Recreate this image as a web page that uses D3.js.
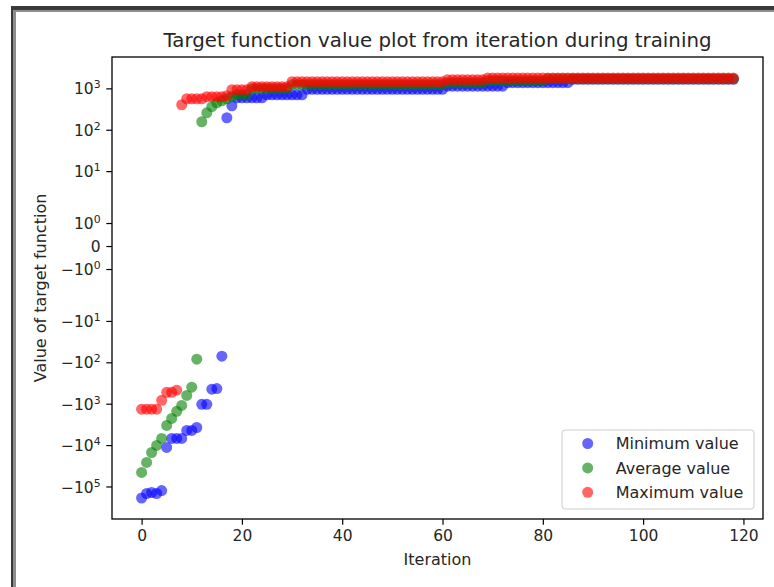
<!DOCTYPE html>
<html>
<head>
<meta charset="utf-8">
<script src="https://cdn.jsdelivr.net/npm/d3@7"></script>
<style>
  body { margin: 0; background: #fff; }
  svg { display: block; font-family: "DejaVu Sans", sans-serif; }
</style>
</head>
<body>
<svg id="chart" width="774" height="587"></svg>
<script>
// Iteration numbers (x axis)
const iterations = [
  0,1,2,3,4,5,6,7,8,9,10,11,12,13,14,15,16,17,18,19,
  20,21,22,23,24,25,26,27,28,29,30,31,32,33,34,35,36,37,38,39,
  40,41,42,43,44,45,46,47,48,49,50,51,52,53,54,55,56,57,58,59,
  60,61,62,63,64,65,66,67,68,69,70,71,72,73,74,75,76,77,78,79,
  80,81,82,83,84,85,86,87,88,89,90,91,92,93,94,95,96,97,98,99,
  100,101,102,103,104,105,106,107,108,109,110,111,112,113,114,115,116,117,118
];

// Minimum target function value per iteration (10 per row)
const minValues = [
  -190000,-148000,-140000,-148000,-126000,-11400,-6900,-6900,-6900,-4420,
  -4420,-3760,-1035,-1035,-447,-430,-71,195,380,590,
  590,590,590,590,590,700,700,700,700,700,
  700,700,700,950,950,950,950,950,950,950,
  950,950,950,950,950,950,950,950,950,950,
  950,950,950,950,950,950,950,950,950,950,
  950,1130,1130,1130,1130,1130,1130,1130,1130,1130,
  1130,1130,1130,1370,1370,1370,1370,1370,1370,1370,
  1370,1370,1370,1370,1370,1370,1650,1650,1650,1650,
  1650,1650,1650,1650,1650,1650,1650,1650,1650,1650,
  1650,1650,1650,1650,1650,1650,1650,1650,1650,1650,
  1650,1650,1650,1650,1650,1650,1650,1650,1650
];

// Average target function value per iteration (10 per row)
const avgValues = [
  -45700,-26300,-15100,-10200,-6900,-3350,-2270,-1530,-1100,-630,
  -400,-84,156,257,360,449,502,561,628,702,
  702,702,980,980,980,980,980,980,980,980,
  1225,1225,1225,1225,1225,1225,1225,1225,1225,1225,
  1225,1225,1225,1225,1225,1225,1225,1225,1225,1225,
  1225,1225,1225,1225,1225,1225,1225,1225,1225,1225,
  1225,1370,1370,1370,1370,1370,1370,1370,1370,1530,
  1530,1530,1530,1530,1530,1530,1530,1530,1530,1530,
  1530,1700,1700,1700,1700,1700,1700,1700,1700,1700,
  1700,1700,1700,1700,1700,1700,1700,1700,1700,1700,
  1700,1700,1700,1700,1700,1700,1700,1700,1700,1700,
  1700,1700,1700,1700,1700,1700,1700,1700,1700
];

// Maximum target function value per iteration (10 per row)
const maxValues = [
  -1360,-1360,-1360,-1360,-830,-530,-530,-470,402,561,
  561,561,561,628,628,628,628,664,927,927,
  927,927,1096,1096,1096,1096,1096,1096,1096,1096,
  1449,1449,1449,1449,1449,1449,1449,1449,1449,1449,
  1449,1449,1449,1449,1449,1449,1449,1449,1449,1449,
  1449,1449,1449,1449,1449,1449,1449,1449,1449,1449,
  1449,1620,1620,1620,1620,1620,1620,1620,1620,1780,
  1780,1780,1780,1780,1780,1780,1780,1780,1780,1780,
  1780,1780,1780,1780,1780,1780,1780,1780,1780,1780,
  1780,1780,1780,1780,1780,1780,1780,1780,1780,1780,
  1780,1780,1780,1780,1780,1780,1780,1780,1780,1780,
  1780,1780,1780,1780,1780,1780,1780,1780,1780
];

const seriesNames = ["Minimum value", "Average value", "Maximum value"];
const seriesColors = ["#0000ff", "#008000", "#ff0000"];

const xTickValues = [0, 20, 40, 60, 80, 100, 120];
const yTickValues = [-1e5, -1e4, -1e3, -1e2, -1e1, -1, 0, 1, 10, 100, 1000];
// [sign, base, exponent] for each y tick label; exponent null means plain text
const yTickLabels = [
  ["\u2212", "10", "5"], ["\u2212", "10", "4"], ["\u2212", "10", "3"], ["\u2212", "10", "2"],
  ["\u2212", "10", "1"], ["\u2212", "10", "0"], ["", "0", null], ["", "10", "0"],
  ["", "10", "1"], ["", "10", "2"], ["", "10", "3"]
];

// Symmetric log transform (base 10, linear threshold 2, linscale 1)
const LINTHRESH = 2;
const LINSCALE_ADJ = 1 / (1 - 1 / 10);
function symlog(v) {
  const a = Math.abs(v);
  if (a <= LINTHRESH) return v * LINSCALE_ADJ;
  return Math.sign(v) * LINTHRESH * (LINSCALE_ADJ + Math.log10(a / LINTHRESH));
}

const svg = d3.select("#chart");
const W = 774, H = 587;
const plot = { left: 112, right: 763, top: 57, bottom: 519 };

// Window frame
svg.append("rect").attr("x", 11).attr("y", 6).attr("width", W - 11).attr("height", 4).attr("fill", "#3a3a3a");
svg.append("rect").attr("x", 11).attr("y", 6).attr("width", 2).attr("height", H - 6).attr("fill", "#3a3a3a");
svg.append("rect").attr("x", 13).attr("y", 10).attr("width", 3).attr("height", H - 10).attr("fill", "#8e8e8e");
svg.append("rect").attr("x", 13).attr("y", 10).attr("width", W - 13).attr("height", 2).attr("fill", "#8e8e8e");

// Scales
const xPad = (d3.max(iterations) - d3.min(iterations)) * 0.05;
const x = d3.scaleLinear()
  .domain([d3.min(iterations) - xPad, d3.max(iterations) + xPad])
  .range([plot.left, plot.right]);

const allT = [...minValues, ...avgValues, ...maxValues].map(symlog);
const tMin = d3.min(allT), tMax = d3.max(allT);
const tPad = (tMax - tMin) * 0.05;
const yT = d3.scaleLinear().domain([tMin - tPad, tMax + tPad]).range([plot.bottom, plot.top]);
const y = v => yT(symlog(v));

// Points: one scatter layer per series, drawn min → avg → max
const series = [minValues, avgValues, maxValues];
series.forEach((vals, si) => {
  svg.append("g")
    .selectAll("circle")
    .data(iterations)
    .join("circle")
    .attr("cx", d => x(d))
    .attr("cy", (d, i) => y(vals[i]))
    .attr("r", 5.5)
    .attr("fill", seriesColors[si])
    .attr("fill-opacity", 0.6);
});

// Axes
const tickLen = 5.7, tickPad = 5.7, fontSize = 15.5;

const xAxis = svg.append("g")
  .attr("transform", `translate(0,${plot.bottom})`)
  .call(d3.axisBottom(x).tickValues(xTickValues).tickSize(tickLen).tickPadding(tickPad).tickSizeOuter(0));
xAxis.select(".domain").remove();
xAxis.selectAll("text").attr("font-size", fontSize).attr("fill", "#262626").attr("font-family", "DejaVu Sans");
xAxis.selectAll("line").attr("stroke", "#000").attr("stroke-width", 1.2);

const yAxis = svg.append("g")
  .attr("transform", `translate(${plot.left},0)`)
  .call(d3.axisLeft(yT).tickValues(yTickValues.map(symlog)).tickSize(tickLen).tickPadding(tickPad).tickFormat(() => ""));
yAxis.select(".domain").remove();
yAxis.selectAll("line").attr("stroke", "#000").attr("stroke-width", 1.2);
yAxis.selectAll("text").each(function (d, i) {
  const [sign, base, exp] = yTickLabels[i];
  const t = d3.select(this)
    .attr("font-size", fontSize).attr("fill", "#262626").attr("font-family", "DejaVu Sans")
    .attr("dy", "0.36em");
  t.append("tspan").text(sign + base);
  if (exp !== null) {
    t.append("tspan").attr("font-size", fontSize * 0.7).attr("dy", "-0.55em").text(exp);
  }
});

// Plot frame (spines)
svg.append("rect")
  .attr("x", plot.left).attr("y", plot.top)
  .attr("width", plot.right - plot.left).attr("height", plot.bottom - plot.top)
  .attr("fill", "none").attr("stroke", "#000").attr("stroke-width", 1.3);

// Title and axis labels
svg.append("text")
  .attr("x", (plot.left + plot.right) / 2).attr("y", 47)
  .attr("text-anchor", "middle").attr("font-size", 19.8).attr("fill", "#262626")
  .text("Target function value plot from iteration during training");

svg.append("text")
  .attr("x", (plot.left + plot.right) / 2).attr("y", 565)
  .attr("text-anchor", "middle").attr("font-size", 16).attr("fill", "#262626")
  .text("Iteration");

svg.append("text")
  .attr("transform", `translate(46,${(plot.top + plot.bottom) / 2}) rotate(-90)`)
  .attr("text-anchor", "middle").attr("font-size", 16).attr("fill", "#262626")
  .text("Value of target function");

// Legend
const legend = svg.append("g").attr("transform", "translate(562,430)");
legend.append("rect")
  .attr("width", 192).attr("height", 79).attr("rx", 3)
  .attr("fill", "#fff").attr("fill-opacity", 0.8)
  .attr("stroke", "#cccccc").attr("stroke-width", 1);
seriesNames.forEach((name, i) => {
  const ly = 13.5 + i * 24.4;
  legend.append("circle").attr("cx", 25.7).attr("cy", ly).attr("r", 5.5)
    .attr("fill", seriesColors[i]).attr("fill-opacity", 0.6);
  legend.append("text").attr("x", 53.7).attr("y", ly).attr("dy", "0.35em")
    .attr("font-size", 16).attr("fill", "#262626").text(name);
});
</script>
</body>
</html>
